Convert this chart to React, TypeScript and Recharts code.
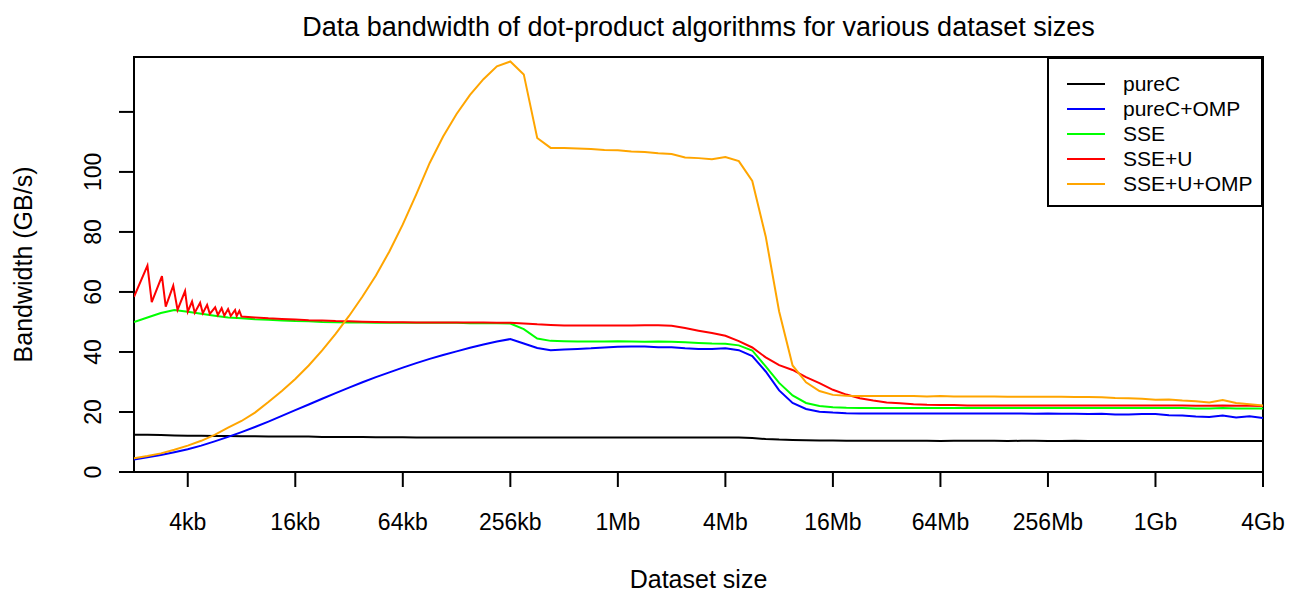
import React from 'react';
import { LineChart, Line, XAxis, YAxis, Legend, ReferenceArea } from 'recharts';

if (typeof document !== 'undefined') document.body.style.margin = '0';

const FONT = '"Liberation Sans", Arial, Helvetica, sans-serif';

// dataset size as log2(bytes): 2kb .. 4Gb
const sizeLog2 = [
  11, 11.25, 11.5, 11.75,
  12, 12.25, 12.5, 12.75,
  13, 13.25, 13.5, 13.75,
  14, 14.25, 14.5, 14.75,
  15, 15.25, 15.5, 15.75,
  16, 16.25, 16.5, 16.75,
  17, 17.25, 17.5, 17.75,
  18, 18.25, 18.5, 18.75,
  19, 19.25, 19.5, 19.75,
  20, 20.25, 20.5, 20.75,
  21, 21.25, 21.5, 21.75,
  22, 22.25, 22.5, 22.75,
  23, 23.25, 23.5, 23.75,
  24, 24.25, 24.5, 24.75,
  25, 25.25, 25.5, 25.75,
  26, 26.25, 26.5, 26.75,
  27, 27.25, 27.5, 27.75,
  28, 28.25, 28.5, 28.75,
  29, 29.25, 29.5, 29.75,
  30, 30.25, 30.5, 30.75,
  31, 31.25, 31.5, 31.75,
  32,
];

const xTicks = [12, 14, 16, 18, 20, 22, 24, 26, 28, 30, 32];
const xTickLabels = ['4kb', '16kb', '64kb', '256kb', '1Mb', '4Mb', '16Mb', '64Mb', '256Mb', '1Gb', '4Gb'];
const yTicks = [0, 20, 40, 60, 80, 100, 120];
const yTickLabels = ['0', '20', '40', '60', '80', '100', ''];
const Y_MAX = 138.3;

// GB/s
const pureC = [
  12.4, 12.4, 12.3, 12.2,
  12.1, 12.1, 12.0, 12.0,
  11.9, 11.9, 11.8, 11.8,
  11.8, 11.8, 11.7, 11.7,
  11.7, 11.7, 11.6, 11.6,
  11.6, 11.5, 11.5, 11.5,
  11.5, 11.5, 11.5, 11.5,
  11.5, 11.5, 11.5, 11.5,
  11.5, 11.5, 11.5, 11.5,
  11.5, 11.5, 11.5, 11.5,
  11.5, 11.5, 11.5, 11.5,
  11.5, 11.5, 11.3, 11.0,
  10.8, 10.7, 10.6, 10.5,
  10.5, 10.4, 10.4, 10.4,
  10.4, 10.4, 10.4, 10.4,
  10.3, 10.4, 10.4, 10.4,
  10.4, 10.3, 10.4, 10.4,
  10.3, 10.3, 10.4, 10.3,
  10.3, 10.3, 10.3, 10.3,
  10.3, 10.3, 10.3, 10.3,
  10.3, 10.3, 10.3, 10.3,
  10.3,
];

const pureCOMP = [
  4.2, 4.9, 5.7, 6.6,
  7.6, 8.8, 10.2, 11.7,
  13.3, 15.0, 16.8, 18.7,
  20.6, 22.5, 24.4, 26.3,
  28.1, 29.9, 31.6, 33.2,
  34.8, 36.3, 37.7, 39.0,
  40.2, 41.4, 42.5, 43.5,
  44.3, 42.8, 41.3, 40.6,
  40.8, 41.0, 41.2, 41.5,
  41.7, 41.8, 41.8, 41.6,
  41.6, 41.2, 41.0, 41.0,
  41.2, 40.6, 38.6, 33.5,
  27.2, 23.0, 21.0, 20.1,
  19.8, 19.6, 19.5, 19.5,
  19.5, 19.5, 19.5, 19.5,
  19.5, 19.5, 19.5, 19.5,
  19.5, 19.5, 19.5, 19.4,
  19.5, 19.4, 19.4, 19.3,
  19.4, 19.2, 19.2, 19.3,
  19.3, 18.9, 18.8, 18.5,
  18.3, 18.8, 18.2, 18.6,
  18.0,
];

const sse = [
  50.0, 51.5, 53.0, 54.0,
  53.4, 52.7, 52.1, 51.5,
  51.2, 50.9, 50.7, 50.5,
  50.3, 50.2, 50.0, 49.9,
  49.8, 49.8, 49.7, 49.7,
  49.7, 49.7, 49.7, 49.7,
  49.7, 49.6, 49.6, 49.6,
  49.5, 47.6, 44.5, 43.7,
  43.6, 43.5, 43.5, 43.5,
  43.6, 43.5, 43.4, 43.5,
  43.4, 43.2, 43.0, 42.8,
  42.7, 42.2, 40.5, 35.2,
  29.7, 25.5, 23.0, 22.0,
  21.6, 21.4, 21.3, 21.3,
  21.3, 21.3, 21.3, 21.3,
  21.3, 21.3, 21.3, 21.3,
  21.3, 21.3, 21.3, 21.3,
  21.3, 21.3, 21.3, 21.3,
  21.3, 21.3, 21.3, 21.3,
  21.3, 21.3, 21.3, 21.2,
  21.2, 21.3, 21.2, 21.2,
  21.2,
];

// SSE+U: saw-tooth at small sizes, then regular grid from 13.25 on
const sseUZigX = [
  11, 11.25, 11.33, 11.52, 11.59, 11.73, 11.81, 11.95, 12.0, 12.08, 12.13, 12.23, 12.28,
  12.36, 12.41, 12.51, 12.56, 12.63, 12.68, 12.75, 12.8, 12.88, 12.91, 12.96, 13.0,
];
const sseUZigY = [
  58.4, 68.8, 56.6, 65.3, 55.1, 62.1, 54.0, 60.3, 53.4, 56.8, 53.1, 56.4, 52.9,
  55.7, 52.7, 54.9, 52.3, 54.6, 52.1, 54.3, 52.0, 54.0, 52.0, 53.7, 51.8,
];
const sseURest = [
  51.5, 51.2, 51.0,
  50.8, 50.6, 50.5, 50.3,
  50.2, 50.1, 50.0, 49.9,
  49.9, 49.8, 49.8, 49.8,
  49.8, 49.8, 49.8, 49.7,
  49.7, 49.5, 49.2, 49.0,
  48.8, 48.8, 48.8, 48.8,
  48.8, 48.8, 48.9, 48.9,
  48.7, 48.0, 47.1, 46.3,
  45.4, 43.6, 41.5, 38.2,
  35.6, 34.0, 31.6, 29.6,
  27.4, 25.8, 24.6, 23.8,
  23.2, 22.9, 22.6, 22.4,
  22.3, 22.3, 22.2, 22.2,
  22.2, 22.2, 22.2, 22.2,
  22.2, 22.2, 22.2, 22.2,
  22.2, 22.2, 22.2, 22.2,
  22.2, 22.2, 22.2, 22.1,
  22.1, 22.2, 22.1, 22.1,
  22.0,
];

const sseUOMP = [
  4.6, 5.3, 6.2, 7.4,
  8.8, 10.4, 12.4, 14.8,
  17.0, 19.8, 23.3, 27.0,
  31.0, 35.5, 40.5, 46.0,
  52.0, 58.5, 65.5, 73.5,
  82.5, 92.5, 103.0, 111.8,
  119.3, 125.7, 130.9, 135.2,
  136.8, 132.5, 111.3, 108.0,
  108.0, 107.8, 107.6, 107.3,
  107.2, 106.8, 106.6, 106.2,
  106.0, 104.8, 104.6, 104.2,
  105.0, 103.6, 97.0, 78.5,
  53.5, 35.5, 29.9, 27.0,
  25.7, 25.4, 25.3, 25.3,
  25.3, 25.3, 25.3, 25.2,
  25.3, 25.2, 25.2, 25.2,
  25.2, 25.1, 25.1, 25.1,
  25.1, 25.1, 25.0, 25.0,
  24.9, 24.7, 24.6, 24.4,
  24.1, 24.2, 23.8, 23.6,
  23.2, 24.0, 23.0, 22.6,
  22.2,
];

const toPoints = (xs: number[], ys: number[]) => xs.map((x, i) => ({ x, v: ys[i] }));

const series = [
  { name: 'pureC', color: '#000000', data: toPoints(sizeLog2, pureC) },
  { name: 'pureC+OMP', color: '#0000FF', data: toPoints(sizeLog2, pureCOMP) },
  { name: 'SSE', color: '#00FF00', data: toPoints(sizeLog2, sse) },
  {
    name: 'SSE+U',
    color: '#FF0000',
    data: [...toPoints(sseUZigX, sseUZigY), ...toPoints(sizeLog2.slice(9), sseURest)],
  },
  { name: 'SSE+U+OMP', color: '#FFA500', data: toPoints(sizeLog2, sseUOMP) },
];
const seriesOrder = series.map((s) => s.name);

const XTick = (props: any) => {
  const { x, y, payload } = props;
  const label = xTickLabels[xTicks.indexOf(payload.value)];
  return (
    <text x={x} y={y + 43} textAnchor="middle" fontSize={23} fontFamily={FONT} fill="#000">
      {label}
    </text>
  );
};

const YTick = (props: any) => {
  const { x, y, payload } = props;
  const label = yTickLabels[yTicks.indexOf(payload.value)];
  return (
    <text
      transform={`translate(${x - 18},${y}) rotate(-90)`}
      textAnchor="middle"
      fontSize={23}
      fontFamily={FONT}
      fill="#000"
    >
      {label}
    </text>
  );
};

const XLabel = (props: any) => {
  const vb = props.viewBox;
  return (
    <text x={vb.x + vb.width / 2} y={588} textAnchor="middle" fontSize={25} fontFamily={FONT} fill="#000">
      Dataset size
    </text>
  );
};

const YLabel = (props: any) => {
  const vb = props.viewBox;
  return (
    <text
      transform={`translate(32,${vb.y + vb.height / 2}) rotate(-90)`}
      textAnchor="middle"
      fontSize={25}
      fontFamily={FONT}
      fill="#000"
    >
      Bandwidth (GB/s)
    </text>
  );
};

const renderLegend = (props: any) => {
  const items = [...(props.payload || [])].sort(
    (a: any, b: any) => seriesOrder.indexOf(a.value) - seriesOrder.indexOf(b.value),
  );
  return (
    <div
      style={{
        boxSizing: 'border-box',
        width: 216,
        height: 150,
        border: '2px solid #000',
        background: '#fff',
        paddingTop: 12,
        fontFamily: FONT,
        fontSize: 21,
        color: '#000',
      }}
    >
      {items.map((it: any) => (
        <div key={it.value} style={{ display: 'flex', alignItems: 'center', height: 25 }}>
          <span style={{ display: 'inline-block', marginLeft: 18, width: 38, height: 2, background: it.color }} />
          <span style={{ marginLeft: 18, lineHeight: '25px' }}>{it.value}</span>
        </div>
      ))}
    </div>
  );
};

export default function App() {
  return (
    <div style={{ position: 'relative', width: 1290, height: 594, background: '#fff', fontFamily: FONT }}>
      <LineChart width={1290} height={594} margin={{ top: 57, right: 27, bottom: 0, left: 0 }}>
        <XAxis
          type="number"
          dataKey="x"
          domain={[11, 32]}
          ticks={xTicks}
          interval={0}
          allowDataOverflow
          height={122}
          tickSize={15}
          tickMargin={0}
          tickLine={{ stroke: '#000', strokeWidth: 2 }}
          axisLine={false}
          tick={<XTick />}
          label={<XLabel />}
        />
        <YAxis
          type="number"
          domain={[0, Y_MAX]}
          ticks={yTicks}
          interval={0}
          allowDataOverflow
          width={134}
          tickSize={15}
          tickMargin={0}
          tickLine={{ stroke: '#000', strokeWidth: 2 }}
          axisLine={false}
          tick={<YTick />}
          label={<YLabel />}
        />
        {series.map((s) => (
          <Line
            key={s.name}
            data={s.data}
            dataKey="v"
            name={s.name}
            type="linear"
            stroke={s.color}
            strokeWidth={2}
            dot={false}
            activeDot={false}
            isAnimationActive={false}
          />
        ))}
        <ReferenceArea x1={11} x2={32} y1={0} y2={Y_MAX} fill="none" stroke="#000" strokeWidth={2} ifOverflow="visible" />
        <Legend
          layout="vertical"
          align="center"
          verticalAlign="middle"
          content={renderLegend}
          wrapperStyle={{ position: 'absolute', left: 1047, top: 57, width: 216, height: 150 }}
        />
      </LineChart>
      <div
        style={{
          position: 'absolute',
          left: 134,
          width: 1129,
          top: 14,
          textAlign: 'center',
          fontSize: 27,
          lineHeight: '27px',
          color: '#000',
        }}
      >
        Data bandwidth of dot-product algorithms for various dataset sizes
      </div>
    </div>
  );
}
